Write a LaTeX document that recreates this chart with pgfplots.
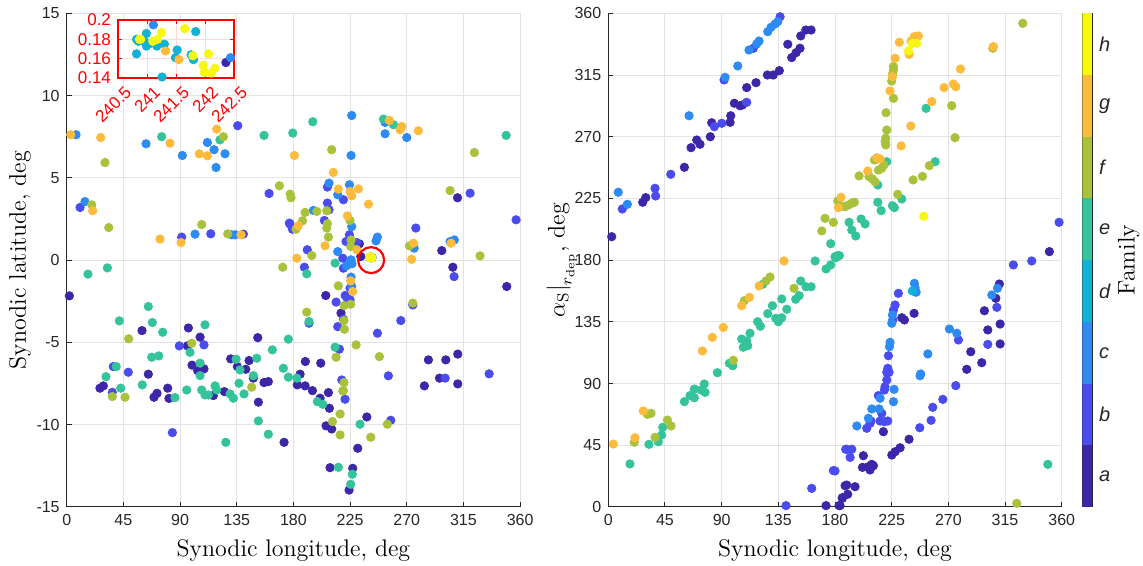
\documentclass[border=0pt]{standalone}
\usepackage{fontspec}
\setsansfont{Liberation Sans}
\usepackage{pgfplots}
\pgfplotsset{compat=1.18}

\definecolor{fa}{HTML}{3E26A8}
\definecolor{fb}{HTML}{4A4CEF}
\definecolor{fc}{HTML}{2D8BF3}
\definecolor{fd}{HTML}{12B1D6}
\definecolor{fe}{HTML}{35C39C}
\definecolor{ff}{HTML}{A8C23B}
\definecolor{fg}{HTML}{FCBB3D}
\definecolor{fh}{HTML}{F8F710}
\definecolor{axgray}{HTML}{262626}
\definecolor{gridgray}{HTML}{E3E3E3}

\pgfplotsset{
  mainax/.style={scale only axis, width=226.7pt, height=246.85pt,
    anchor=south west, clip=false,
    axis x line*=bottom, axis y line*=left,
    axis line style={draw=axgray, line width=0.5pt},
    tick align=inside, major tick length=2.5pt,
    tick style={draw=axgray, line width=0.5pt},
    grid=major, major grid style={draw=gridgray, line width=0.5pt},
    ticklabel style={font=\sffamily\fontsize{8}{9}\selectfont, text=axgray},
    /pgf/number format/assume math mode=true,
    label style={font=\fontsize{12}{14}\selectfont}},
  fam/.style={only marks, mark=*, mark size=2.1pt},
}

\begin{document}
\begin{tikzpicture}
\useasboundingbox (0,0) rectangle (571.5pt,283pt);

% left panel: synodic position
\begin{axis}[mainax, at={(33.35pt,29.5pt)},
  xmin=0, xmax=360, ymin=-15, ymax=15,
  xtick={0,45,...,360}, ytick={-15,-10,...,15},
  ylabel shift=-4pt,
  xlabel={Synodic longitude, deg}, ylabel={Synodic latitude, deg}]
\addplot[fam, color=fa] coordinates {(2.1,-2.17) (59.8,-4.28) (96.6,-4.12) (105.9,-4.68) (95.8,-5.21) (151.7,-4.71) (64.8,-6.93) (99.5,-6.38) (104,-6.71) (109,-6.61) (130.2,-6.0) (135.5,-6.47) (142.2,-6.63) (144.8,-6.1) (148.2,-7.17) (156.7,-7.44) (160.1,-7.38) (26.4,-7.78) (29.1,-7.64) (71.7,-8.09) (69.3,-8.33) (80.2,-7.78) (81.2,-8.4) (116.4,-8.23) (125.2,-7.99) (152.2,-8.63) (183.1,-7.58) (189.3,-7.64) (185.3,-6.93) (195.1,-7.93) (201.2,-8.39) (207.8,-8.05) (208.6,-9.0) (205.9,-10.07) (210.4,-10.26) (209.1,-12.61) (227.1,-12.65) (224.2,-13.97) (231.1,-11.43) (238.3,-9.53) (172.6,-11.07) (205.7,-2.15) (217.8,-3.22) (189.5,-6.16) (201.7,-6.26) (287.2,-6.06) (301,-6.06) (310.5,-5.71) (296,-7.17) (284,-7.64) (310.5,-7.52) (306.6,-0.43) (349.4,-1.6) (310.3,3.79) (232.4,0.99) (233.5,0.22) (297.8,0.58) (242.36,0.156)};
\addplot[fam, color=fb] coordinates {(10.6,3.2) (91.3,1.4) (114.4,1.6) (140.3,1.58) (176.8,2.25) (179.2,1.88) (160.7,4.05) (89.4,-5.21) (109,-5.15) (37,-6.47) (48.9,-6.81) (36.2,-8.03) (83.9,-10.48) (221,-8.45) (257.3,-9.73) (188.7,-0.43) (219.7,-0.49) (225,-1.7) (213.9,-2.55) (221.1,-2.15) (222.9,-2.35) (225,-2.41) (219.7,-3.59) (215.2,-4.04) (192.4,-3.83) (274.8,-2.72) (265.3,-3.67) (246.7,-4.44) (307.6,-1.0) (216.5,-5.41) (218.4,-7.28) (255.4,-7.03) (300.5,-7.17) (335.4,-6.91) (207,4.44) (219.7,3.67) (320.3,4.07) (356.8,2.45) (207,3.47) (208.3,3.06) (204.6,2.41) (177.3,2.19) (224.5,1.54) (221.8,1.13) (230.3,1.07) (191,0.63) (219.2,0.12) (277.2,1.95) (135.8,8.17)};
\addplot[fam, color=fc] coordinates {(7.4,7.62) (63,7.07) (111.7,7.15) (117,6.71) (125.7,6.46) (91.8,6.36) (118.6,5.63) (14.5,3.56) (101.9,1.58) (131,1.54) (133.8,1.54) (222,-0.35) (225,-0.1) (226.5,-0.22) (225.8,-1.03) (226.3,-1.6) (252.8,7.68) (270,7.45) (226.3,8.79) (252.8,8.37) (225.8,6.36) (208.3,4.68) (215.2,3.97) (224.5,4.58) (195.9,3.02) (226.3,2.04) (215.2,0.52) (225.8,0.02) (246.7,1.4) (245.6,1.17) (275.9,0.73) (304.4,1.13) (307.8,1.23) (242.44,0.161) (241.11,0.195)};
\addplot[fam, color=fd] coordinates {(240.82,0.165) (240.85,0.178) (240.82,0.180) (240.99,0.186) (240.95,0.178) (240.99,0.173) (241.07,0.176) (241.17,0.173) (241.3,0.175) (241.26,0.141) (241.52,0.169) (241.49,0.161) (241.84,0.188) (241.76,0.164) (241.8,0.159)};
\addplot[fam, color=fe] coordinates {(75.4,7.5) (156.7,7.58) (179.5,7.72) (121.7,7.31) (32.3,-0.47) (16.9,-0.85) (64.8,-2.82) (41.8,-3.69) (68,-3.79) (76.2,-4.38) (109.8,-3.93) (97.9,-5.6) (163.3,-5.45) (176,-4.8) (67.5,-5.9) (73.1,-5.82) (39.3,-6.47) (31.2,-7.08) (105.9,-6.26) (105.9,-7.02) (134.5,-6.02) (137.6,-6.67) (150.9,-5.96) (148.2,-7.02) (172,-6.57) (176,-7.11) (42.9,-7.78) (60,-7.58) (86,-8.35) (95.3,-7.89) (107.2,-7.89) (109.8,-8.19) (112.5,-8.19) (117.8,-7.64) (119.1,-7.89) (129.7,-8.13) (132.3,-8.39) (136.8,-7.48) (140.8,-8.13) (126.3,-11.07) (152.2,-9.77) (160.1,-10.58) (199,-8.6) (203.3,-8.76) (215.7,-12.59) (226.8,-13.01) (225.5,-13.62) (232.9,-9.97) (182.7,-7.17) (190.6,-0.83) (213.1,-0.18) (213.1,-5.29) (192.4,-3.73) (195.4,8.41) (251.5,8.57) (259.4,8.23) (348.9,7.58)};
\addplot[fam, color=ff] coordinates {(124.4,7.5) (30.4,5.93) (168.9,4.52) (177.4,4.01) (178.1,3.79) (19.9,3.36) (33.4,1.98) (107.2,2.16) (127.9,1.6) (171.5,-0.43) (99.3,-5.05) (49.2,-4.78) (36.2,-8.29) (46.3,-8.33) (146.9,-7.72) (219.2,-7.95) (217.1,-9.35) (211,-9.81) (217.1,-10.62) (241.4,-10.76) (254.6,-9.97) (215.7,-1.56) (220.2,-2.76) (225.5,-2.68) (220.2,-3.67) (220.5,-4.2) (190.6,-3.16) (274.8,-2.61) (213.9,-5.9) (229.8,-5.15) (248.3,-5.86) (220.2,-7.44) (219.7,-7.93) (210.4,6.71) (323.7,6.54) (304.4,4.23) (198.6,2.96) (189.3,2.9) (206.5,3.0) (207,2.21) (206.5,1.95) (187.2,2.39) (182.1,1.88) (225,2.41) (207.8,1.4) (225.8,1.23) (225.5,0.83) (194.6,0.28) (272.1,0.87) (328.2,0.26)};
\addplot[fam, color=fg] coordinates {(3.2,7.62) (27,7.45) (82,7.11) (119.1,7.96) (105.3,6.46) (111.7,6.34) (180.8,6.36) (20.6,3.0) (74.1,1.28) (90.8,1.07) (138.4,1.54) (182.7,0.12) (225.5,-1.26) (227.1,-1.91) (273.9,0.05) (264.7,7.92) (279.2,7.86) (256.2,8.49) (266,8.12) (211.7,5.33) (215.7,4.32) (225,4.17) (226.3,3.91) (231.6,4.33) (239.6,3.4) (183.9,2.09) (222.9,2.69) (205.1,0.87) (230.3,0.63) (275.3,1.03) (305.2,1.03) (241.32,0.168) (241.55,0.159)};
\addplot[fam, color=fh] coordinates {(240.89,0.180) (240.87,0.180) (241.1,0.178) (241.18,0.180) (241.25,0.187) (241.65,0.191) (241.79,0.163) (242.06,0.165) (241.97,0.153) (241.99,0.146) (242.11,0.145) (242.17,0.150)};
\addplot[only marks, mark=o, mark size=6.5pt, red, line width=1.1pt] coordinates {(241.7,0)};
\end{axis}

% zoomed inset of the circled cluster
\begin{axis}[at={(59pt,244pt)}, anchor=south west, scale only axis,
  width=58pt, height=29pt,
  xmin=240.5, xmax=242.5, ymin=0.14, ymax=0.2,
  xtick={240.5,241,241.5,242,242.5}, ytick={0.14,0.16,0.18,0.2},
  scaled ticks=false, clip=false,
  axis background/.style={fill=white},
  axis line style={draw=red, line width=0.6pt},
  tick align=inside, major tick length=2pt, tick style={draw=red},
  grid=major, major grid style={draw=red!15, line width=0.5pt},
  ticklabel style={font=\sffamily\fontsize{8.5}{10}\selectfont, text=red},
  /pgf/number format/assume math mode=true,
  yticklabel style={/pgf/number format/.cd, fixed, precision=2},
  xticklabel style={xshift=3pt, yshift=-2pt, rotate=45, anchor=north east, inner sep=1pt,
    /pgf/number format/.cd, fixed, precision=1}]
\addplot[fam, color=fa] coordinates {(242.36,0.156)};
\addplot[fam, color=fc] coordinates {(242.44,0.161) (241.11,0.195)};
\addplot[fam, color=fd] coordinates {(240.82,0.165) (240.85,0.178) (240.82,0.180) (240.99,0.186) (240.95,0.178) (240.99,0.173) (241.07,0.176) (241.17,0.173) (241.3,0.175) (241.26,0.141) (241.52,0.169) (241.49,0.161) (241.84,0.188) (241.76,0.164) (241.8,0.159)};
\addplot[fam, color=fg] coordinates {(241.32,0.168) (241.55,0.159)};
\addplot[fam, color=fh] coordinates {(240.89,0.180) (240.87,0.180) (241.1,0.178) (241.18,0.180) (241.25,0.187) (241.65,0.191) (241.79,0.163) (242.06,0.165) (241.97,0.153) (241.99,0.146) (242.11,0.145) (242.17,0.150)};
\end{axis}

% right panel: solar phase angle at departure
\begin{axis}[mainax, at={(304.15pt,29.5pt)},
  xmin=0, xmax=360, ymin=0, ymax=360,
  xtick={0,45,...,360}, ytick={0,45,...,360},
  ylabel shift=-8pt,
  xlabel={Synodic longitude, deg},
  ylabel={$\alpha_{\mathrm{S}}\big|_{r_{\mathrm{dep}}}$, deg}]
\addplot[fam, color=fa] coordinates {(2.7,197.1) (27.3,222.2) (29.7,225.6) (60.4,247.7) (65.7,262) (70.2,267.6) (72.8,264.5) (81,270) (82.1,280.2) (97.2,285.3) (96.7,280.5) (100.1,294.4) (104.6,292.6) (106.4,293.1) (109.9,305.8) (117.3,309.4) (126.3,315) (131,315) (135.8,318.2) (142.5,337.4) (145.6,327.7) (149.1,331.3) (152.2,334.5) (152.8,343.5) (156.8,347.8) (161,347.8) (350.2,186.2) (172.9,1) (184,1) (185.8,6.8) (188,15.5) (233,138) (235.1,136.4) (242.8,141.2) (218.4,54.9) (202.5,37.4) (201.8,28.9) (206.5,29.4) (209.2,31.1) (207.8,27) (210.5,30.1) (189.3,16) (195.9,14.8) (190.1,9.3) (185.8,6.3) (183.2,1) (225.1,37.9) (227.7,40.3) (231.7,43.2) (238.8,49.4) (284.6,100.4) (287.8,113.2) (296.5,105.2) (301.3,129.1) (311.1,133.4) (311.1,118.9) (298.6,143.1) (307.7,152.2) (310.5,162.6)};
\addplot[fam, color=fb] coordinates {(11.1,217.3) (37.1,232.4) (37.6,226.8) (49.6,242.6) (84.2,277.3) (90.1,279.8) (91.9,311.4) (109.9,295.1) (115.2,334.5) (136.4,357.5) (357.9,207.6) (336.2,179.4) (321.6,176.5) (141.1,1) (161.5,13.6) (178.7,26.5) (180,26.3) (188.5,42.1) (230.3,155.8) (227.7,147.3) (226.4,143.6) (225.9,136.4) (222.4,110.3) (221.9,101.1) (221.1,98.2) (222.9,98.2) (221.1,92.6) (219.7,87.7) (219.2,85.3) (214.4,81.2) (217.1,68.3) (208.6,62.7) (205.2,57.4) (207.8,61) (215.8,62.7) (219.2,62.2) (221.9,62.7) (189.3,42.1) (193.3,42.1) (192,36.2) (247.3,57.8) (256.3,63.2) (257.6,72.7) (265.6,78.5) (275.9,88.5) (278,121.8) (301.3,118.6) (308.5,145.6)};
\addplot[fam, color=fc] coordinates {(7.9,229.5) (15.1,220.7) (64.1,285.3) (92.7,313.3) (102.8,321.6) (111.7,333.2) (117.8,337.6) (119.7,339.8) (126.6,346.6) (129.2,349.8) (132.4,352.2) (134.5,353.9) (225.6,140) (225.1,134) (243,163.1) (243.6,159.9) (244.4,156.6) (223.7,120.1) (223.2,116.9) (253.7,111.6) (247.5,95.7) (248,97) (226.9,85.8) (215.8,79.3) (226.4,76.8) (209.2,71.5) (215,71.5) (206.5,64.7) (197.3,59.1) (270.8,129.8) (276.7,126.7) (304.5,154.6) (309,159.5)};
\addplot[fam, color=fd] coordinates {(241.4,157.5)};
\addplot[fam, color=fe] coordinates {(176.6,192) (180,182.5) (183.5,183.3) (164.2,179.4) (191.2,207.6) (193.3,202) (196.5,197.6) (200.7,210) (203.9,206.4) (182.2,183.3) (214,234.8) (221.1,251.8) (214,222.2) (216.6,216.1) (225.6,219.7) (227.1,218.3) (233,224.6) (259.5,251.8) (252.3,290.7) (17.2,31.4) (32.3,45.7) (39.7,47.6) (42.4,52.5) (43.2,58.1) (60.4,76.8) (64.9,81.2) (68.3,79.7) (68.3,86) (73.6,85.3) (76.8,83.6) (76.2,89.7) (86.6,97.9) (96.1,104.8) (98.8,103) (105.9,122.5) (107.2,116.5) (110.7,117.6) (109.9,121) (112.5,126.7) (118.6,135.1) (120.7,131.8) (122.6,162.4) (126.6,141) (130.3,146.8) (132.9,137.6) (135,135.1) (137.7,138) (137.7,151.7) (141.7,144.2) (148.8,151.5) (151.5,154.1) (152.8,164.8) (157,160.6) (161,160.6) (172.9,173.6) (176.6,176.5) (180.6,181.8) (181.4,182.5) (349,31.1)};
\addplot[fam, color=ff] coordinates {(172.1,210.5) (178.7,207.6) (169.5,201.3) (182.2,223.1) (186.6,219.3) (188,219) (190.6,220.2) (193.3,221.5) (195.4,222.2) (199.1,241.4) (207,240.9) (209.7,239.2) (211.8,237.2) (211.3,253) (214.5,245.7) (217.1,247) (218.9,249.4) (229.8,228) (242,238.5) (249.4,241.1) (254.9,248.9) (219.8,266.4) (220.3,268.9) (220.3,264) (221.1,274.9) (220.5,287.5) (226.4,298) (225,310.6) (226.4,321.1) (226.4,318.7) (225.8,316) (272.7,292.6) (275.3,269.3) (305.3,334.5) (329.1,352.7) (20.6,47.2) (31,67.6) (33.9,68.3) (37.1,50.8) (46.9,63.4) (49.8,59.1) (99.3,107) (108,150.4) (125.2,164.8) (128.4,167.7) (147.5,159.5) (324.3,2.7)};
\addplot[fam, color=fg] coordinates {(184.8,225.8) (182.7,218.3) (206,245) (213.2,254.7) (215.8,253.8) (232.5,263.3) (240.2,277.8) (223.7,303.4) (225.6,313.8) (227.7,327.2) (231.1,338.9) (238.8,330.1) (240.4,339.8) (243,343) (246.2,343.5) (256.8,295.6) (266.6,305.8) (274,308.4) (275.9,306.5) (279.6,319.4) (305.8,335.7) (139.5,179.4) (4,45.9) (21.2,50.5) (27.8,70) (74.7,113.8) (82.6,123.7) (91.3,131) (105.9,146.8) (112,152.9) (119.7,161.2)};
\addplot[fam, color=fh] coordinates {(238.3,332.5) (241.4,338.1) (244.9,338.1) (250.5,212)};
\end{axis}

% discrete colour bar for the families
\begin{axis}[at={(541.15pt,29.5pt)}, anchor=south west, scale only axis,
  width=4.85pt, height=246.85pt,
  xmin=0, xmax=1, ymin=0, ymax=8,
  xtick=\empty, ytick={0.5,1.5,...,7.5},
  yticklabels={a,b,c,d,e,f,g,h},
  yticklabel pos=right, major tick length=0pt,
  axis line style={draw=axgray, line width=0.5pt},
  yticklabel style={font=\sffamily\itshape\fontsize{10}{12}\selectfont, text=axgray},
  ylabel={Family}, ylabel shift=-3pt,
  ylabel style={font=\fontsize{12}{14}\selectfont}]
\addplot[fill=fa, draw=none, forget plot] coordinates {(0,0) (1,0) (1,1) (0,1)};
\addplot[fill=fb, draw=none, forget plot] coordinates {(0,1) (1,1) (1,2) (0,2)};
\addplot[fill=fc, draw=none, forget plot] coordinates {(0,2) (1,2) (1,3) (0,3)};
\addplot[fill=fd, draw=none, forget plot] coordinates {(0,3) (1,3) (1,4) (0,4)};
\addplot[fill=fe, draw=none, forget plot] coordinates {(0,4) (1,4) (1,5) (0,5)};
\addplot[fill=ff, draw=none, forget plot] coordinates {(0,5) (1,5) (1,6) (0,6)};
\addplot[fill=fg, draw=none, forget plot] coordinates {(0,6) (1,6) (1,7) (0,7)};
\addplot[fill=fh, draw=none, forget plot] coordinates {(0,7) (1,7) (1,8) (0,8)};
\end{axis}
\end{tikzpicture}
\end{document}
